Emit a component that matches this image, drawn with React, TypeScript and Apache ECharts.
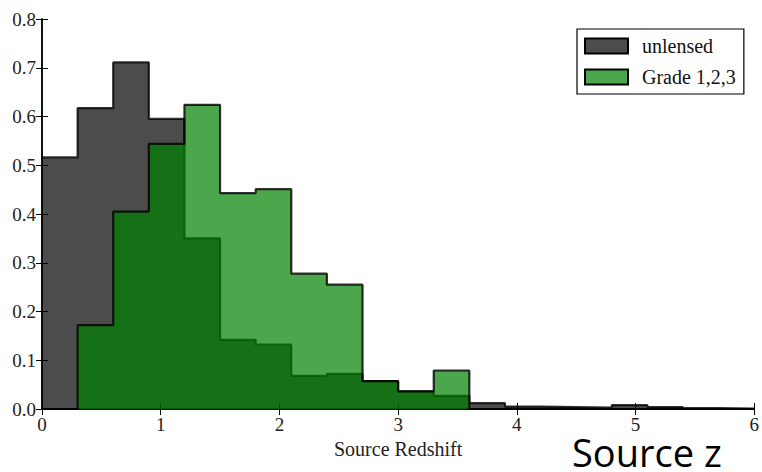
import React, { useEffect, useRef } from "react";
import * as echarts from "echarts";

// Bin edges (left edge of each bin, width 0.3) of the source redshift histogram
const binEdges = [0, 0.3, 0.6, 0.9, 1.2, 1.5, 1.8, 2.1, 2.4, 2.7, 3.0, 3.3, 3.6, 3.9, 4.2, 4.5, 4.8, 5.1, 5.4, 5.7, 6.0];
const unlensed = [0.516, 0.617, 0.711, 0.595, 0.35, 0.142, 0.132, 0.068, 0.072, 0.057, 0.036, 0.027, 0.012, 0.005, 0.004, 0.003, 0.008, 0.004, 0.002, 0.001];
const grade123 = [0, 0.172, 0.405, 0.544, 0.624, 0.443, 0.451, 0.2775, 0.255, 0.057, 0.036, 0.079, 0, 0, 0, 0, 0, 0, 0, 0];
const xTicks = [0, 1, 2, 3, 4, 5, 6];
const yTicks = [0, 0.1, 0.2, 0.3, 0.4, 0.5, 0.6, 0.7, 0.8];
const seriesNames = ["unlensed", "Grade 1,2,3"];

const GRAY = "rgba(0,0,0,0.7)";
const GREEN = "rgba(0,128,0,0.7)";
const SERIF = "'Liberation Serif', 'DejaVu Serif', serif";

function stepData(vals: number[]) {
  const pts: [number, number][] = vals.map((v, i) => [binEdges[i], v]);
  pts.push([binEdges[binEdges.length - 1], vals[vals.length - 1]]);
  return pts;
}

export default function App() {
  const ref = useRef<HTMLDivElement>(null);
  useEffect(() => {
    document.body.style.margin = "0";
    const chart = echarts.init(ref.current!, null, { renderer: "svg" });
    const axisLine = { show: true, lineStyle: { color: "#000", width: 1.5 } };
    const tick = { show: true, inside: true, length: 6, lineStyle: { color: "#000", width: 1 } };
    chart.setOption({
      animation: false,
      backgroundColor: "#fff",
      grid: { left: 42, right: 4, top: 19, bottom: 63, containLabel: false },
      legend: {
        orient: "vertical",
        left: 577,
        top: 29,
        padding: [7, 8, 7, 7],
        itemGap: 11,
        itemWidth: 43,
        itemHeight: 15,
        borderColor: "#000",
        borderWidth: 1.2,
        backgroundColor: "#fff",
        textStyle: { fontFamily: SERIF, fontSize: 20, color: "#111", padding: [0, 0, 0, 9] },
        data: [
          { name: seriesNames[0], icon: "rect", itemStyle: { color: GRAY, borderColor: "#000", borderWidth: 2 } },
          { name: seriesNames[1], icon: "rect", itemStyle: { color: GREEN, borderColor: "#000", borderWidth: 2 } },
        ],
      },
      xAxis: [
        {
          type: "value",
          min: xTicks[0],
          max: xTicks[xTicks.length - 1],
          interval: 1,
          position: "bottom",
          axisLine,
          axisTick: tick,
          splitLine: { show: false },
          axisLabel: { fontFamily: SERIF, fontSize: 19, color: "#222", margin: 6 },
          name: "Source Redshift",
          nameLocation: "middle",
          nameGap: 28,
          nameTextStyle: { fontFamily: SERIF, fontSize: 20, color: "#222" },
        },
        {
          type: "value",
          min: xTicks[0],
          max: xTicks[xTicks.length - 1],
          interval: 1,
          position: "top",
          axisLine,
          axisTick: tick,
          splitLine: { show: false },
          axisLabel: { show: false },
        },
      ],
      yAxis: [
        {
          type: "value",
          min: yTicks[0],
          max: yTicks[yTicks.length - 1],
          interval: 0.1,
          position: "left",
          axisLine,
          axisTick: tick,
          splitLine: { show: false },
          axisLabel: {
            fontFamily: SERIF,
            fontSize: 19,
            color: "#222",
            margin: 6,
            formatter: (v: number) => v.toFixed(1),
          },
        },
        {
          type: "value",
          min: yTicks[0],
          max: yTicks[yTicks.length - 1],
          interval: 0.1,
          position: "right",
          axisLine,
          axisTick: tick,
          splitLine: { show: false },
          axisLabel: { show: false },
        },
      ],
      series: [
        {
          name: seriesNames[0],
          type: "line",
          step: "end",
          data: stepData(unlensed),
          showSymbol: false,
          symbol: "none",
          color: GRAY,
          lineStyle: { color: "#000", width: 2.2, opacity: 0.8 },
          areaStyle: { color: "#000", opacity: 0.7 },
          z: 2,
        },
        {
          name: seriesNames[1],
          type: "line",
          step: "end",
          data: stepData(grade123),
          showSymbol: false,
          symbol: "none",
          color: GREEN,
          lineStyle: { color: "#000", width: 2.2, opacity: 0.8 },
          areaStyle: { color: "#008000", opacity: 0.7 },
          z: 3,
        },
      ],
      graphic: [
        {
          type: "text",
          left: 572,
          top: 433,
          style: {
            text: "Source z",
            fontFamily: "'Open Sans', 'Noto Sans', sans-serif",
            fontSize: 38,
            letterSpacing: 1,
            fill: "#000",
          },
        },
      ],
    });
    return () => chart.dispose();
  }, []);
  return <div ref={ref} style={{ width: 762, height: 472 }} />;
}
